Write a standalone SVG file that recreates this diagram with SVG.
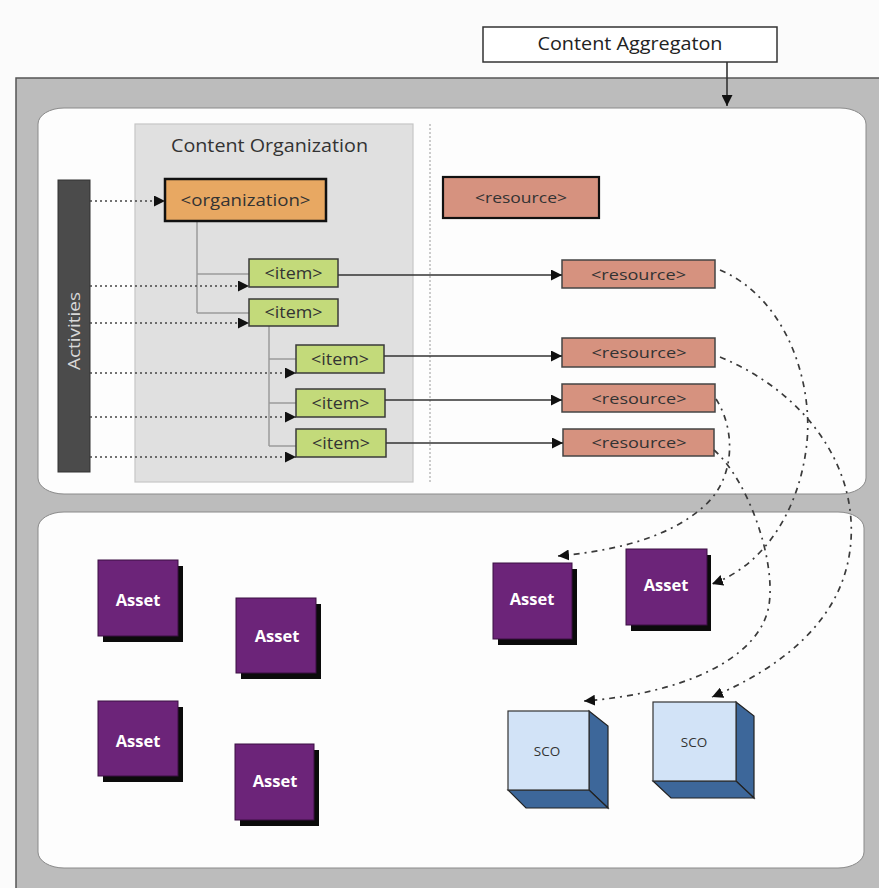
<svg xmlns="http://www.w3.org/2000/svg" width="879" height="888" viewBox="0 0 879 888">
<defs>
<style>
text{font-family:"Open Sans","Noto Sans","DejaVu Sans",sans-serif;}
.item rect{fill:#c3da7a;stroke:#3a3a3a;stroke-width:1.5;}
.item text{font-size:15.5px;fill:#333;text-anchor:middle;}
.res rect{fill:#d6927f;stroke:#444;stroke-width:1.5;}
.res text{font-size:15px;fill:#333;text-anchor:middle;}
.asset .sh{fill:#0b0b0b;}
.asset .fr{fill:#6c2479;stroke:#3a0f42;stroke-width:1;}
.asset text{font-size:16.5px;font-weight:bold;fill:#fff;text-anchor:middle;}
.sco .fr{fill:#d2e3f7;stroke:#333;stroke-width:1.2;}
.sco .sd{fill:#3d679a;stroke:#222;stroke-width:1.2;}
.sco text{font-size:13.5px;fill:#333;text-anchor:middle;}
.tree{stroke:#9a9a9a;stroke-width:1.5;fill:none;}
.dot{stroke:#444;stroke-width:1.6;stroke-dasharray:2 3;fill:none;}
.solid{stroke:#333;stroke-width:1.6;fill:none;}
.dd{stroke:#3a3a3a;stroke-width:1.7;stroke-dasharray:6 5 2 5;fill:none;}
</style>
<marker id="ah" viewBox="0 0 10 10" refX="10" refY="5" markerWidth="11" markerHeight="11" markerUnits="userSpaceOnUse" orient="auto">
<path d="M0,0 L10,5 L0,10 z" fill="#111"/>
</marker>
</defs>
<rect width="879" height="888" fill="#fbfbfb"/>
<g id="aggregation-frame">
<rect x="16" y="78" width="875" height="820" fill="#bcbcbc" stroke="#555" stroke-width="1.5"/>
<rect x="38" y="108" width="828" height="386" rx="26" ry="16" fill="#fdfdfd" stroke="#8a8a8a" stroke-width="1"/>
<rect x="38" y="512" width="826" height="356" rx="26" ry="16" fill="#fdfdfd" stroke="#8a8a8a" stroke-width="1"/>
</g>
<g id="content-aggregation">
<rect x="483" y="27" width="294" height="35" fill="#fff" stroke="#333" stroke-width="1.5"/>
<text x="630" y="50" font-size="18" text-anchor="middle" fill="#222" textLength="185" lengthAdjust="spacingAndGlyphs">Content Aggregaton</text>
</g>
<g id="content-organization">
<rect x="135" y="124" width="278" height="358" fill="#e0e0e0" stroke="#c6c6c6" stroke-width="1.2"/>
<text x="269.5" y="152" font-size="19" text-anchor="middle" fill="#333" textLength="197" lengthAdjust="spacingAndGlyphs">Content Organization</text>
</g>
<line x1="430" y1="124" x2="430" y2="482" stroke="#999" stroke-width="1" stroke-dasharray="2 2"/>
<g id="activities">
<rect x="58" y="180" width="32" height="292" fill="#4b4b4b" stroke="#333" stroke-width="1"/>
<text transform="translate(80,331) rotate(-90)" font-size="17" text-anchor="middle" fill="#d8d8d8" textLength="78" lengthAdjust="spacingAndGlyphs">Activities</text>
</g>
<g id="tree-lines">
<path class="tree" d="M197,222 V313 M197,274 H249 M197,313 H249"/>
<path class="tree" d="M269,326 V446 M269,359 H296 M269,403 H296 M269,446 H296"/>
</g>
<g id="organization">
<rect x="165" y="179" width="161" height="42" fill="#e8a862" stroke="#111" stroke-width="2.5"/>
<text x="245.5" y="206" font-size="16.5" text-anchor="middle" fill="#333" textLength="130" lengthAdjust="spacingAndGlyphs">&lt;organization&gt;</text>
</g>
<g id="item1" class="item"><rect x="249" y="259" width="89" height="28"/><text x="293.5" y="278.5" textLength="58" lengthAdjust="spacingAndGlyphs">&lt;item&gt;</text></g>
<g id="item2" class="item"><rect x="249" y="299" width="89" height="27"/><text x="293.5" y="318" textLength="58" lengthAdjust="spacingAndGlyphs">&lt;item&gt;</text></g>
<g id="item3" class="item"><rect x="296" y="345" width="88" height="28"/><text x="340" y="364.5" textLength="58" lengthAdjust="spacingAndGlyphs">&lt;item&gt;</text></g>
<g id="item4" class="item"><rect x="296" y="389" width="89" height="28"/><text x="340.5" y="408.5" textLength="58" lengthAdjust="spacingAndGlyphs">&lt;item&gt;</text></g>
<g id="item5" class="item"><rect x="296" y="429" width="90" height="28"/><text x="341" y="448.5" textLength="58" lengthAdjust="spacingAndGlyphs">&lt;item&gt;</text></g>
<g id="resource0" class="res"><rect x="443" y="177" width="156" height="41" style="stroke:#111;stroke-width:2.2"/><text x="521" y="203" textLength="92" lengthAdjust="spacingAndGlyphs">&lt;resource&gt;</text></g>
<g id="resource1" class="res"><rect x="562" y="260" width="153" height="28"/><text x="638.5" y="279.5" textLength="95" lengthAdjust="spacingAndGlyphs">&lt;resource&gt;</text></g>
<g id="resource2" class="res"><rect x="562" y="338" width="153" height="29"/><text x="639" y="357.5" textLength="95" lengthAdjust="spacingAndGlyphs">&lt;resource&gt;</text></g>
<g id="resource3" class="res"><rect x="562" y="384" width="153" height="28"/><text x="639" y="403.5" textLength="95" lengthAdjust="spacingAndGlyphs">&lt;resource&gt;</text></g>
<g id="resource4" class="res"><rect x="563" y="429" width="151" height="27"/><text x="639" y="448" textLength="95" lengthAdjust="spacingAndGlyphs">&lt;resource&gt;</text></g>
<g id="asset1" class="asset"><rect class="sh" x="103" y="566" width="80" height="76"/><rect class="fr" x="98" y="560" width="80" height="76"/><text x="138" y="606">Asset</text></g>
<g id="asset2" class="asset"><rect class="sh" x="241" y="604" width="80" height="75"/><rect class="fr" x="236" y="598" width="80" height="75"/><text x="277" y="642">Asset</text></g>
<g id="asset3" class="asset"><rect class="sh" x="103" y="707" width="80" height="75"/><rect class="fr" x="98" y="701" width="80" height="75"/><text x="138" y="747">Asset</text></g>
<g id="asset4" class="asset"><rect class="sh" x="240" y="750" width="79" height="76"/><rect class="fr" x="235" y="744" width="79" height="76"/><text x="275" y="787">Asset</text></g>
<g id="asset5" class="asset"><rect class="sh" x="498" y="569" width="79" height="76"/><rect class="fr" x="493" y="563" width="79" height="76"/><text x="532" y="605">Asset</text></g>
<g id="asset6" class="asset"><rect class="sh" x="631" y="555" width="80" height="76"/><rect class="fr" x="626" y="549" width="81" height="76"/><text x="666" y="591">Asset</text></g>
<g id="sco1" class="sco">
<polygon class="sd" points="589,711 608,726 608,808 589,790"/>
<polygon class="sd" points="508,790 589,790 608,808 526,808"/>
<rect class="fr" x="508" y="711" width="81" height="79"/>
<text x="547" y="756">SCO</text>
</g>
<g id="sco2" class="sco">
<polygon class="sd" points="736,702 754,716 754,798 736,781"/>
<polygon class="sd" points="653,781 736,781 754,798 671,798"/>
<rect class="fr" x="653" y="702" width="83" height="79"/>
<text x="694" y="747">SCO</text>
</g>
<g id="connectors">
<line class="solid" x1="727" y1="62" x2="727" y2="106" marker-end="url(#ah)"/>
<line class="dot" x1="90" y1="201" x2="165" y2="201" marker-end="url(#ah)"/>
<line class="dot" x1="90" y1="286" x2="249" y2="286" marker-end="url(#ah)"/>
<line class="dot" x1="90" y1="323" x2="249" y2="323" marker-end="url(#ah)"/>
<line class="dot" x1="90" y1="373" x2="296" y2="373" marker-end="url(#ah)"/>
<line class="dot" x1="90" y1="417" x2="296" y2="417" marker-end="url(#ah)"/>
<line class="dot" x1="90" y1="457" x2="296" y2="457" marker-end="url(#ah)" stroke="#888"/>
<line class="solid" x1="338" y1="275" x2="562" y2="275" marker-end="url(#ah)"/>
<line class="solid" x1="384" y1="356" x2="562" y2="356" marker-end="url(#ah)"/>
<line class="solid" x1="385" y1="400" x2="562" y2="400" marker-end="url(#ah)"/>
<line class="solid" x1="386" y1="443" x2="563" y2="443" marker-end="url(#ah)"/>
<path class="dd" d="M720,270 C790,300 815,390 806,450 C798,510 765,565 712,584" marker-end="url(#ah)"/>
<path class="dd" d="M720,357 C800,390 856,460 851,540 C846,620 780,668 712,697" marker-end="url(#ah)"/>
<path class="dd" d="M716,399 C736,430 736,480 702,508 C665,540 610,551 558,556" marker-end="url(#ah)"/>
<path class="dd" d="M714,450 C748,480 776,560 769,605 C760,660 680,694 584,701" marker-end="url(#ah)"/>
</g>
</svg>
